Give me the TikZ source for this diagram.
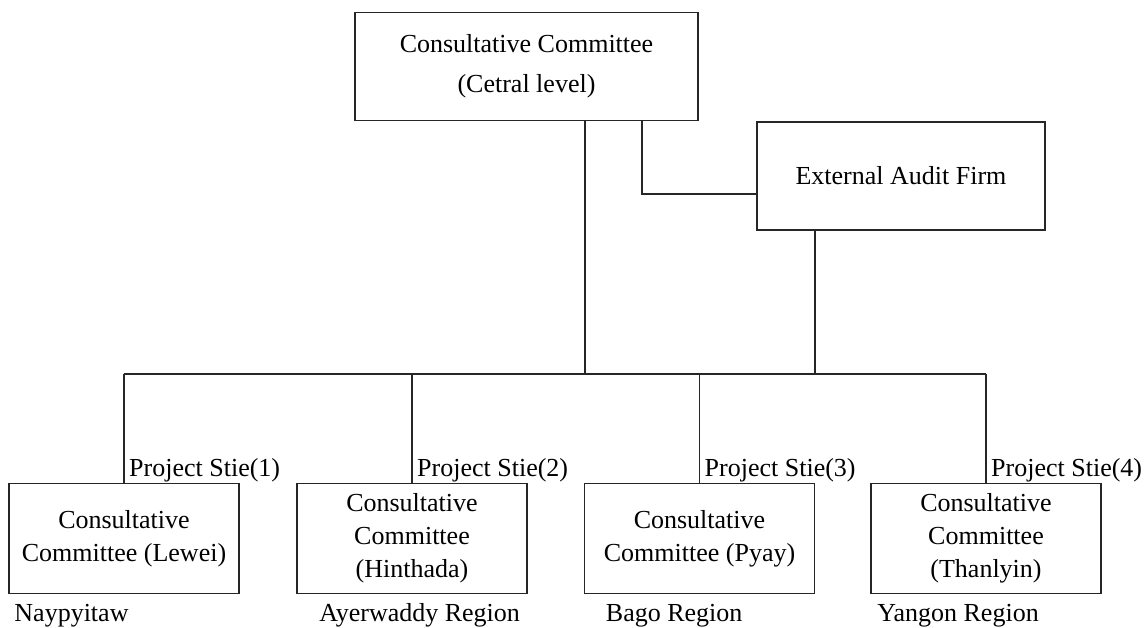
\documentclass[tikz,border=0pt]{standalone}
\usepackage{fontspec}
\setmainfont{Liberation Serif}
\usetikzlibrary{calc}
\begin{document}
\begin{tikzpicture}[x=1pt,y=-1pt,
  box/.style={draw=black!85,line width=1.5pt,rectangle,inner sep=0pt,align=center,
    font=\fontsize{26}{40}\selectfont},
  sitebox/.style={box,minimum width=230pt,minimum height=110pt,
    font=\fontsize{26}{33}\selectfont},
  lab/.style={inner sep=0pt,anchor=base west,font=\fontsize{26}{30}\selectfont},
  link/.style={draw=black!85,line width=1.5pt}]
\useasboundingbox (0,0) rectangle (1144,627);
\node[box,minimum width=343pt,minimum height=108pt] (top) at (526.5,66.5)
  {Consultative Committee\\(Cetral level)};
\node[box,minimum width=288pt,minimum height=108pt] (audit) at (901,176)
  {External Audit Firm};
\node[sitebox] (b1) at (124,538.5) {Consultative\\Committee (Lewei)};
\node[sitebox] (b2) at (412,538.5) {Consultative\\Committee\\(Hinthada)};
\node[sitebox] (b3) at (699.5,538.5) {Consultative\\Committee (Pyay)};
\node[sitebox] (b4) at (986,538.5) {Consultative\\Committee\\(Thanlyin)};
\coordinate (busy) at (0,374);
\coordinate (tx) at (585,0);
\coordinate (ax) at (642,194);
\coordinate (ux) at (815,0);
\draw[link] (top.south -| tx) -- (busy -| tx);
\draw[link] (top.south -| ax) -- (ax) -- (ax -| audit.west);
\draw[link] (audit.south -| ux) -- (busy -| ux);
\draw[link] (busy -| b1.north) -- (busy -| b4.north);
\foreach \i in {1,...,4}{
  \draw[link] (busy -| b\i.north) -- (b\i.north);
  \node[lab] (p\i) at ([xshift=5pt,yshift=6pt]b\i.north) {Project Stie(\i)};
}
\node[lab] (r1) at ([xshift=6pt,yshift=-27pt]b1.south west) {Naypyitaw};
\node[lab] (r2) at ([xshift=23pt,yshift=-27pt]b2.south west) {Ayerwaddy Region};
\node[lab] (r3) at ([xshift=22pt,yshift=-27pt]b3.south west) {Bago Region};
\node[lab] (r4) at ([xshift=7pt,yshift=-27pt]b4.south west) {Yangon Region};
\end{tikzpicture}
\end{document}
